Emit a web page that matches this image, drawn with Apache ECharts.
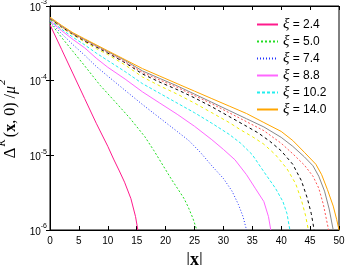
<!DOCTYPE html>
<html><head><meta charset="utf-8">
<script src="https://cdn.jsdelivr.net/npm/echarts@6/dist/echarts.min.js"></script>
<style>html,body{margin:0;padding:0;background:#fff}#c{width:346px;height:265px}</style>
</head><body><div id="c"></div>
<script>
// tick labels
const xTicks = [0, 5, 10, 15, 20, 25, 30, 35, 40, 45, 50];
const yExponents = [-6, -5, -4, -3];
const legendNames = ['\u03be = 2.4', '\u03be = 5.0', '\u03be = 7.4', '\u03be = 8.8', '\u03be = 10.2', '\u03be = 14.0'];

// xi = 2.4 (magenta)
const x_2_4 = [0, 2, 4, 6, 8, 10, 11, 12, 12.9, 14, 14.8, 15.2];
const y_2_4 = [5.62e-4, 2.63e-4, 1.23e-4, 5.75e-5, 2.69e-5, 1.32e-5, 8.91e-6, 6.17e-6, 4.37e-6, 2.63e-6, 1.51e-6, 1e-6];
// xi = 5.0 (green)
const x_5_0 = [0, 2, 4, 6, 8.65, 11, 13.8, 16.4, 18, 19.9, 21, 22.2, 23.2, 23.9, 24.7, 25.4];
const y_5_0 = [6.03e-4, 3.80e-4, 2.45e-4, 1.58e-4, 8.71e-5, 5.50e-5, 3.16e-5, 1.78e-5, 1.15e-5, 6.61e-6, 4.79e-6, 3.47e-6, 2.63e-6, 2.04e-6, 1.45e-6, 1e-6];
// xi = 7.4 (blue)
const x_7_4 = [0, 2, 4, 6, 8, 10, 13, 16, 19, 22, 24, 26, 28, 30, 31.5, 32.6, 33.4, 34];
const y_7_4 = [6.17e-4, 4.27e-4, 3.02e-4, 2.19e-4, 1.55e-4, 1.15e-4, 7.41e-5, 4.79e-5, 3.16e-5, 2.09e-5, 1.58e-5, 1.10e-5, 7.24e-6, 4.90e-6, 3.31e-6, 2.19e-6, 1.51e-6, 1e-6];
// xi = 8.8 (violet)
const x_8_8 = [0, 2, 4, 6, 8, 10, 13, 16, 19, 22, 25, 28, 30, 32, 34, 35.5, 37, 37.8, 38.2];
const y_8_8 = [6.31e-4, 4.68e-4, 3.55e-4, 2.75e-4, 2.00e-4, 1.51e-4, 1.05e-4, 7.08e-5, 5.01e-5, 3.55e-5, 2.45e-5, 1.62e-5, 1.20e-5, 8.71e-6, 5.50e-6, 3.63e-6, 2.40e-6, 1.51e-6, 1e-6];
// xi = 10.2 (cyan)
const x_10_2 = [0, 2, 4, 6, 8, 10, 13, 16, 19, 22, 25, 28, 31, 33, 35, 37, 39, 40.3, 41, 41.5];
const y_10_2 = [6.46e-4, 4.90e-4, 3.80e-4, 3.02e-4, 2.34e-4, 1.86e-4, 1.32e-4, 9.12e-5, 6.76e-5, 5.01e-5, 3.72e-5, 2.69e-5, 1.91e-5, 1.45e-5, 1.02e-5, 6.03e-6, 3.63e-6, 2.40e-6, 1.66e-6, 1e-6];
// unlabelled yellow curve
const x_yel = [0, 2, 4, 6, 8, 10, 13, 16, 19, 22, 25, 28, 31, 33, 35, 37, 39, 41, 42.5, 43.5, 44.2, 44.7];
const y_yel = [6.61e-4, 5.13e-4, 4.07e-4, 3.31e-4, 2.69e-4, 2.24e-4, 1.62e-4, 1.12e-4, 8.51e-5, 6.61e-5, 5.01e-5, 3.72e-5, 2.75e-5, 2.19e-5, 1.78e-5, 1.41e-5, 1.02e-5, 6.61e-6, 4.17e-6, 2.51e-6, 1.58e-6, 1e-6];
// unlabelled black curve
const x_blk = [0, 2, 4, 6, 8, 10, 13, 16, 19, 22, 25, 28, 31, 34, 36, 38, 40, 42, 43.5, 44.5, 45.2, 45.7];
const y_blk = [6.76e-4, 5.25e-4, 4.17e-4, 3.39e-4, 2.82e-4, 2.34e-4, 1.74e-4, 1.23e-4, 9.55e-5, 7.59e-5, 5.89e-5, 4.47e-5, 3.31e-5, 2.45e-5, 2.00e-5, 1.55e-5, 1.15e-5, 7.59e-6, 4.57e-6, 2.69e-6, 1.66e-6, 1e-6];
// unlabelled red curve
const x_red = [0, 2, 4, 6, 8, 10, 13, 16, 19, 22, 25, 28, 31, 34, 37, 40, 42, 44, 45.5, 46.5, 47.3, 48.2];
const y_red = [6.76e-4, 5.25e-4, 4.17e-4, 3.47e-4, 2.88e-4, 2.40e-4, 1.78e-4, 1.29e-4, 1.02e-4, 8.13e-5, 6.31e-5, 4.90e-5, 3.72e-5, 2.82e-5, 2.14e-5, 1.45e-5, 1.05e-5, 7.41e-6, 5.25e-6, 3.63e-6, 2.19e-6, 1e-6];
// unlabelled grey curve
const x_gry = [0, 2, 4, 6, 8, 10, 13, 16, 19, 22, 25, 28, 31, 34, 37, 40, 42, 44, 45.5, 46.5, 47.5, 48.3, 49];
const y_gry = [6.92e-4, 5.37e-4, 4.27e-4, 3.55e-4, 2.95e-4, 2.45e-4, 1.86e-4, 1.35e-4, 1.07e-4, 8.51e-5, 6.61e-5, 5.13e-5, 3.98e-5, 3.09e-5, 2.40e-5, 1.74e-5, 1.32e-5, 9.55e-6, 7.24e-6, 5.25e-6, 3.31e-6, 1.91e-6, 1e-6];
// xi = 14.0 (orange)
const x_14_0 = [0, 2, 4, 6, 8, 10, 13, 16, 19, 22, 25, 28, 31, 34, 37, 40, 42, 44, 46, 47, 48, 49, 49.6, 50];
const y_14_0 = [7.08e-4, 5.50e-4, 4.37e-4, 3.63e-4, 3.02e-4, 2.51e-4, 1.91e-4, 1.45e-4, 1.15e-4, 9.12e-5, 7.24e-5, 5.75e-5, 4.57e-5, 3.63e-5, 2.75e-5, 2.09e-5, 1.58e-5, 1.10e-5, 7.59e-6, 5.50e-6, 3.47e-6, 2.09e-6, 1.38e-6, 1e-6];

const pair = (xs, ys) => xs.map((x, i) => [x, ys[i]]);

const curves = [
  {name: legendNames[0], xs: x_2_4, ys: y_2_4, color: '#ff1a8c', type: 'solid'},
  {name: legendNames[1], xs: x_5_0, ys: y_5_0, color: '#22dd22', type: [2, 2]},
  {name: legendNames[2], xs: x_7_4, ys: y_7_4, color: '#2233ff', type: [1, 2]},
  {name: legendNames[3], xs: x_8_8, ys: y_8_8, color: '#ff66ff', type: 'solid'},
  {name: legendNames[4], xs: x_10_2, ys: y_10_2, color: '#22eeee', type: [3, 2]},
  {name: 'yellow', xs: x_yel, ys: y_yel, color: '#eeee00', type: [3, 3]},
  {name: 'black', xs: x_blk, ys: y_blk, color: '#000000', type: [3, 3]},
  {name: 'red', xs: x_red, ys: y_red, color: '#ff5555', type: [2, 2]},
  {name: 'grey', xs: x_gry, ys: y_gry, color: '#888888', type: 'solid'},
  {name: legendNames[5], xs: x_14_0, ys: y_14_0, color: '#ffa500', type: 'solid'}
];

const chart = echarts.init(document.getElementById('c'), null, {renderer: 'canvas'});
const sans = 'Liberation Sans';
const serif = 'Liberation Serif';
const tickLab = {
  color: '#000', fontFamily: sans, fontSize: 10
};
chart.setOption({
  animation: false,
  backgroundColor: '#fff',
  grid: {left: 50, right: 7, top: 6, bottom: 35, show: true, borderColor: '#000', borderWidth: 1, outerBoundsMode: 'none'},
  legend: {
    data: legendNames,
    orient: 'vertical', left: 251, top: 12,
    itemWidth: 21, itemHeight: 14, itemGap: 2,
    itemStyle: {opacity: 0, borderWidth: 0},
    textStyle: {
      fontFamily: sans, fontSize: 12, color: '#000',
      rich: {g: {fontFamily: serif, fontStyle: 'italic', fontSize: 15}}
    },
    formatter: n => '{g|\u03be}' + n.slice(1)
  },
  xAxis: [{
    type: 'value', min: 0, max: 50, interval: 5, position: 'bottom',
    axisLine: {lineStyle: {color: '#000', width: 1}},
    axisTick: {inside: true, length: 4, lineStyle: {color: '#000'}},
    axisLabel: Object.assign({margin: 6, formatter: v => xTicks.includes(v) ? String(v) : ''}, tickLab),
    splitLine: {show: false},
    name: '|{b|x}|', nameLocation: 'middle', nameGap: 18,
    nameTextStyle: {fontFamily: serif, fontSize: 19, color: '#000', rich: {b: {fontFamily: serif, fontWeight: 'bold', fontSize: 18}}}
  }, {
    type: 'value', min: 0, max: 50, interval: 5, position: 'top',
    axisLine: {lineStyle: {color: '#000'}},
    axisTick: {inside: true, length: 4, lineStyle: {color: '#000'}},
    axisLabel: {show: false}, splitLine: {show: false}
  }],
  yAxis: [{
    type: 'log', logBase: 10, min: 1e-6, max: 1e-3,
    axisLine: {show: true, lineStyle: {color: '#000'}},
    axisTick: {inside: true, length: 4, lineStyle: {color: '#000'}},
    minorTick: {show: false},
    axisLabel: {
      margin: 3, color: '#000',
      formatter: v => {
        const e = Math.round(Math.log10(v));
        return yExponents.includes(e) ? '{b|10}{s|' + e + '}' : '';
      },
      rich: {
        b: {fontFamily: sans, fontSize: 10, lineHeight: 14, verticalAlign: 'bottom'},
        s: {fontFamily: sans, fontSize: 7, lineHeight: 14, verticalAlign: 'top'}
      }
    },
    splitLine: {show: false},
    name: '{d|\u0394}{k|K}{p|(}{bx|x}{p|, 0) /}{m|\u03bc}{k|2}',
    nameLocation: 'middle', nameRotate: 90, nameGap: 28,
    nameTextStyle: {
      color: '#000',
      rich: {
        d: {fontFamily: serif, fontSize: 17, lineHeight: 22, verticalAlign: 'bottom'},
        p: {fontFamily: serif, fontSize: 16, lineHeight: 22, verticalAlign: 'bottom'},
        m: {fontFamily: serif, fontSize: 16, fontStyle: 'italic', lineHeight: 22, verticalAlign: 'bottom'},
        bx: {fontFamily: serif, fontSize: 16, fontWeight: 'bold', lineHeight: 22, verticalAlign: 'bottom'},
        k: {fontFamily: serif, fontSize: 11, fontStyle: 'italic', lineHeight: 22, verticalAlign: 'top', padding: [0, 2, 0, 1]}
      }
    }
  }, {
    type: 'log', logBase: 10, min: 1e-6, max: 1e-3, position: 'right',
    axisLine: {show: true, lineStyle: {color: '#000'}},
    axisTick: {inside: true, length: 4, lineStyle: {color: '#000'}},
    minorTick: {show: false},
    axisLabel: {show: false}, splitLine: {show: false}
  }],
  series: curves.map(c => ({
    type: 'line', name: c.name, data: pair(c.xs, c.ys),
    xAxisIndex: 0, yAxisIndex: 0,
    symbol: 'none', smooth: false, clip: true,
    color: c.color,
    lineStyle: {color: c.color, width: 1, type: c.type},
    itemStyle: {color: c.color}
  }))
});
</script></body></html>
